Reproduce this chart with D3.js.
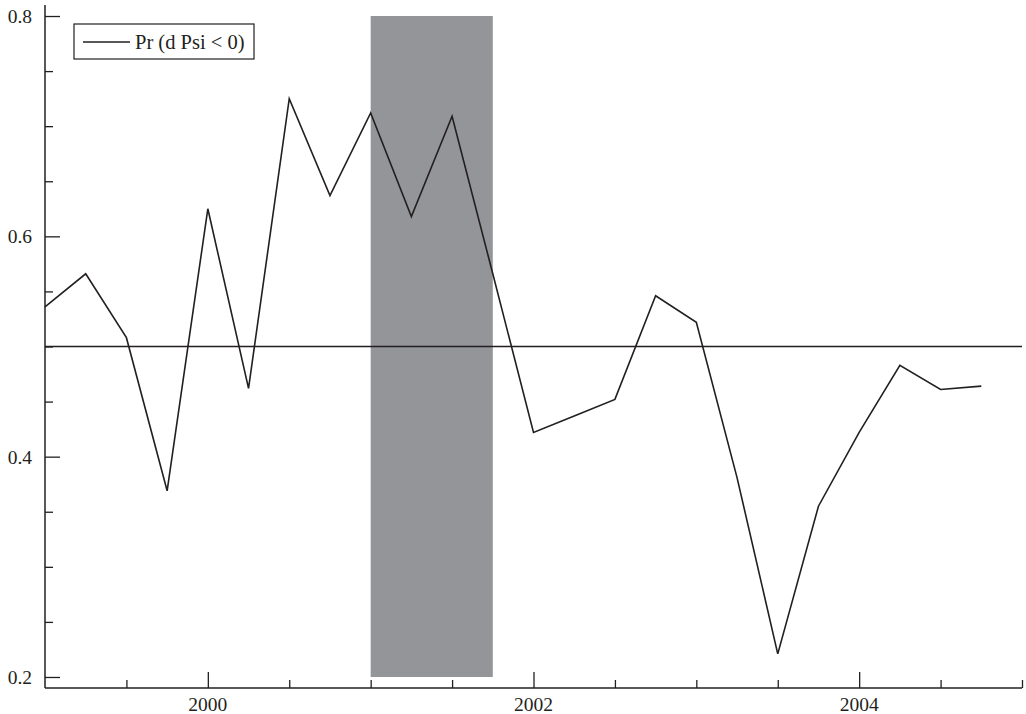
<!DOCTYPE html>
<html>
<head>
<meta charset="utf-8">
<script src="https://cdn.jsdelivr.net/npm/d3@7"></script>
<style>
  html, body { margin: 0; padding: 0; background: #fff; }
  svg { display: block; }
</style>
</head>
<body>
<svg id="chart" width="1026" height="714"></svg>
<script>
// Quarterly observations
const quarters = [
  1999.0, 1999.25, 1999.5, 1999.75,
  2000.0, 2000.25, 2000.5, 2000.75,
  2001.0, 2001.25, 2001.5, 2001.75,
  2002.0, 2002.25, 2002.5, 2002.75,
  2003.0, 2003.25, 2003.5, 2003.75,
  2004.0, 2004.25, 2004.5, 2004.75
];
const probNegative = [
  0.536, 0.566, 0.508, 0.369,
  0.625, 0.462, 0.725, 0.637,
  0.712, 0.618, 0.709, 0.566,
  0.422, 0.437, 0.452, 0.546,
  0.522, 0.381, 0.221, 0.355,
  0.422, 0.483, 0.461, 0.464
];
const seriesLabel = "Pr (d Psi < 0)";
const referenceLevel = 0.5;
const recession = [2001.0, 2001.75];
const recessionRange = [0.2, 0.8];
const xMajorTicks = [2000, 2002, 2004];
const yMajorTicks = [0.2, 0.4, 0.6, 0.8];

const ink = "#231f20";
const serif = "'Liberation Serif', 'DejaVu Serif', serif";
const svg = d3.select("#chart");

const x = d3.scaleLinear().domain([1999, 2005]).range([45, 1022]);
const y = d3.scaleLinear().domain([0.19, 0.81]).range([688, 5]);

// Shaded period
svg.append("rect")
  .attr("x", x(recession[0]))
  .attr("width", x(recession[1]) - x(recession[0]))
  .attr("y", y(recessionRange[1]))
  .attr("height", y(recessionRange[0]) - y(recessionRange[1]))
  .attr("fill", "#939598");

// Axes: inward ticks
const xMinor = d3.range(1999.5, 2005.01, 0.5).filter(v => !xMajorTicks.includes(v));
const yMinor = d3.range(0.25, 0.80, 0.05).map(v => +v.toFixed(2)).filter(v => !yMajorTicks.some(m => Math.abs(m - v) < 1e-9));

const xAxisMajor = d3.axisTop(x).tickValues(xMajorTicks).tickSize(16).tickFormat("");
const xAxisMinor = d3.axisTop(x).tickValues(xMinor).tickSize(8).tickFormat("");
const yAxisMajor = d3.axisRight(y).tickValues(yMajorTicks).tickSize(15).tickFormat("");
const yAxisMinor = d3.axisRight(y).tickValues(yMinor).tickSize(8).tickFormat("");

function styleAxis(g) {
  g.selectAll("path").remove();
  g.selectAll("text").remove();
  g.selectAll("line").attr("stroke", ink).attr("stroke-width", 1.3);
}

svg.append("g").attr("transform", `translate(0,${y.range()[0]})`).call(xAxisMajor).call(styleAxis);
svg.append("g").attr("transform", `translate(0,${y.range()[0]})`).call(xAxisMinor).call(styleAxis);
svg.append("g").attr("transform", `translate(${x.range()[0]},0)`).call(yAxisMajor).call(styleAxis);
svg.append("g").attr("transform", `translate(${x.range()[0]},0)`).call(yAxisMinor).call(styleAxis);

// Axis lines
svg.append("line")
  .attr("x1", x.range()[0]).attr("x2", x.range()[1])
  .attr("y1", y.range()[0]).attr("y2", y.range()[0])
  .attr("stroke", ink).attr("stroke-width", 1.5);
svg.append("line")
  .attr("x1", x.range()[0]).attr("x2", x.range()[0])
  .attr("y1", y.range()[1]).attr("y2", y.range()[0])
  .attr("stroke", ink).attr("stroke-width", 1.5);

// Tick labels
svg.append("g").selectAll("text").data(xMajorTicks).join("text")
  .attr("x", d => x(d)).attr("y", 711)
  .attr("text-anchor", "middle")
  .attr("font-family", serif)
  .attr("font-size", 19.5)
  .attr("fill", ink)
  .text(d => d);

svg.append("g").selectAll("text").data(yMajorTicks).join("text")
  .attr("x", 32).attr("y", d => y(d))
  .attr("dy", "0.36em")
  .attr("text-anchor", "end")
  .attr("font-family", serif)
  .attr("font-size", 19.5)
  .attr("fill", ink)
  .text(d => d.toFixed(1));

// Reference level
svg.append("line")
  .attr("x1", x.range()[0]).attr("x2", x.range()[1])
  .attr("y1", y(referenceLevel)).attr("y2", y(referenceLevel))
  .attr("stroke", ink).attr("stroke-width", 1.3);

// Probability series
const series = quarters.map((q, i) => ({ q, v: probNegative[i] }));
svg.append("path")
  .datum(series)
  .attr("fill", "none")
  .attr("stroke", ink)
  .attr("stroke-width", 1.6)
  .attr("stroke-linejoin", "miter")
  .attr("d", d3.line().x(d => x(d.q)).y(d => y(d.v)));

// Legend
const legend = svg.append("g").attr("transform", "translate(74,24)");
legend.append("rect")
  .attr("width", 180).attr("height", 35)
  .attr("fill", "#fff").attr("stroke", ink).attr("stroke-width", 1.2);
legend.append("line")
  .attr("x1", 9).attr("x2", 56).attr("y1", 18).attr("y2", 18)
  .attr("stroke", ink).attr("stroke-width", 1.6);
legend.append("text")
  .attr("x", 61).attr("y", 25)
  .attr("font-family", serif)
  .attr("font-size", 20.5)
  .attr("fill", ink)
  .text(seriesLabel);
</script>
</body>
</html>
